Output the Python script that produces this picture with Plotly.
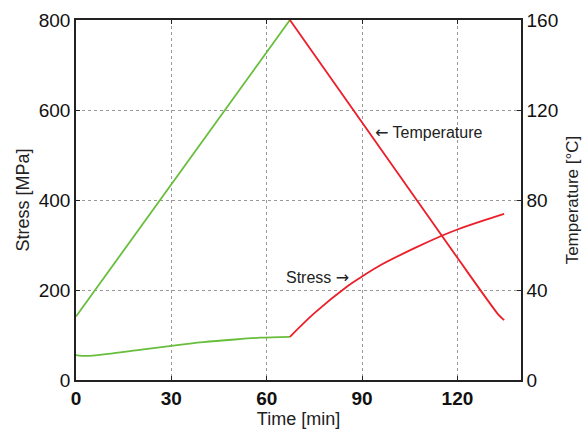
import plotly.graph_objects as go

# Stress [MPa] vs time [min]
stress_heat_time = [0, 3.4, 10, 20, 30, 40, 50, 58, 67.3]
stress_heat = [55.5, 53.5, 58, 67, 76, 84, 90, 94, 96]
stress_cool_time = [67.3, 74.9, 85.5, 90.2, 96, 106.5, 114.9, 120.2, 127.6, 134.7]
stress_cool = [96, 148, 209, 231, 256, 293, 320, 335, 353, 369]

# Temperature [°C] vs time [min]
temp_heat_time = [0, 67.3]
temp_heat = [28.2, 160]
temp_cool_time = [67.3, 120, 132.8, 134.7]
temp_cool = [160, 54.3, 29.2, 26.6]

x_ticks = [0, 30, 60, 90, 120]
y_ticks = [0, 200, 400, 600, 800]
y2_ticks = [0, 40, 80, 120, 160]

GREEN = "#68BE3C"
RED = "#EC1E28"
FONT = "Liberation Sans, Arial, sans-serif"
TXT = "#222222"
ARROW = '<span style="font-family:DejaVu Sans">{}</span>'

fig = go.Figure()
fig.add_trace(go.Scatter(x=temp_heat_time, y=temp_heat, mode="lines", yaxis="y2",
                         line=dict(color=GREEN, width=1.8), showlegend=False))
fig.add_trace(go.Scatter(x=temp_cool_time, y=temp_cool, mode="lines", yaxis="y2",
                         line=dict(color=RED, width=1.8, shape="spline", smoothing=0.6), showlegend=False))
fig.add_trace(go.Scatter(x=stress_heat_time, y=stress_heat, mode="lines",
                         line=dict(color=GREEN, width=1.8, shape="spline", smoothing=0.8), showlegend=False))
fig.add_trace(go.Scatter(x=stress_cool_time, y=stress_cool, mode="lines",
                         line=dict(color=RED, width=1.8, shape="spline", smoothing=0.8), showlegend=False))

fig.add_annotation(x=65.3, y=227, xref="x", yref="y", text="Stress " + ARROW.format("\u2192"), showarrow=False,
                   xanchor="left", yanchor="middle", font=dict(family=FONT, size=16, color=TXT))
fig.add_annotation(x=93.4, y=549, xref="x", yref="y", text=ARROW.format("\u2190") + " Temperature", showarrow=False,
                   xanchor="left", yanchor="middle", font=dict(family=FONT, size=16, color=TXT))

axis_common = dict(showline=True, linecolor="#222222", linewidth=1.5, ticks="inside",
                   ticklen=4, tickcolor="#222222", zeroline=False, automargin=False)

fig.update_layout(
    width=582, height=435,
    margin=dict(l=76, r=61, t=20, b=55),
    paper_bgcolor="white", plot_bgcolor="white",
    font=dict(family=FONT, color=TXT),
    xaxis=dict(range=[0, 140], tickvals=x_ticks, mirror="ticks",
               showgrid=True, gridcolor="#999999", griddash="dot", gridwidth=1,
               tickfont=dict(family=FONT, size=19, color="#111111", weight="bold"),
               title=dict(text="Time [min]", font=dict(family=FONT, size=18, color=TXT), standoff=5),
               **axis_common),
    yaxis=dict(range=[0, 800], tickvals=y_ticks, mirror=False,
               showgrid=True, gridcolor="#999999", griddash="dot", gridwidth=1,
               tickfont=dict(family=FONT, size=19, color="#111111"),
               title=dict(text="Stress [MPa]", font=dict(family=FONT, size=18, color=TXT), standoff=4),
               **axis_common),
    yaxis2=dict(range=[0, 160], tickvals=y2_ticks, overlaying="y", side="right",
                showgrid=False,
                tickfont=dict(family=FONT, size=19, color="#111111"),
                title=dict(text="Temperature [°C]", font=dict(family=FONT, size=17, color=TXT), standoff=12),
                **axis_common),
)

fig.write_html("out.html")
